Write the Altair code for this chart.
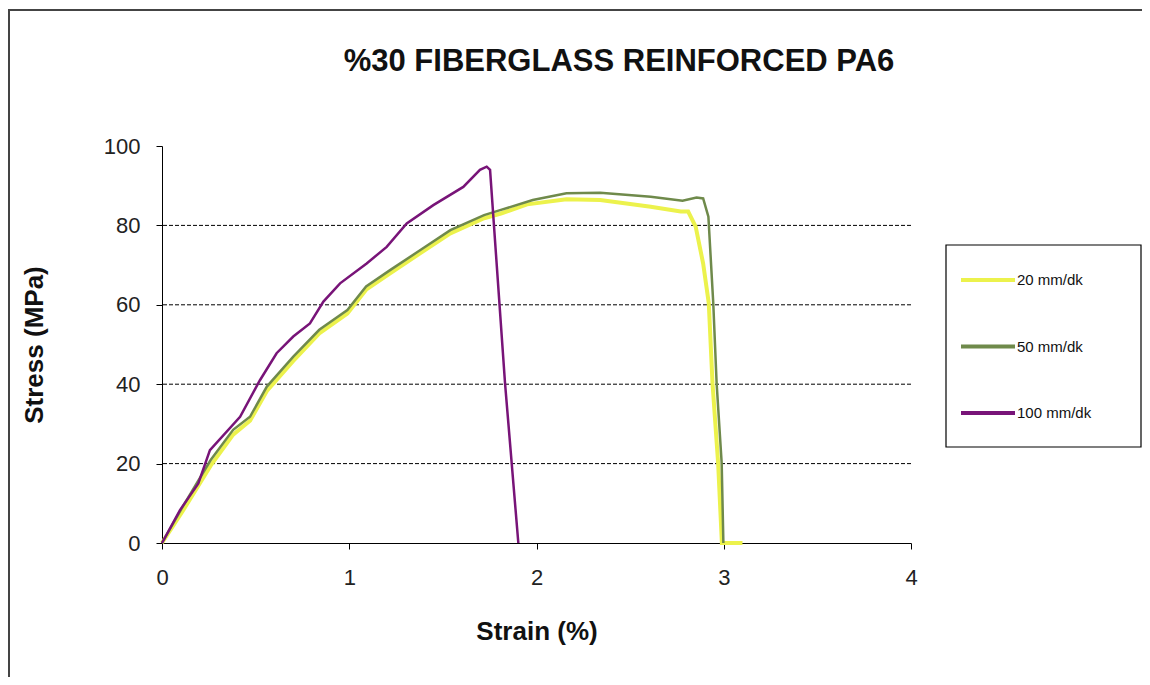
import altair as alt
import pandas as pd

# ---------------- data ----------------
series_names = ["20 mm/dk", "50 mm/dk", "100 mm/dk"]
series_colors = ["#ECF24C", "#6F8A4B", "#781478"]
series_widths = [4, 2.5, 2.5]

strain_20 = [0, 0.11, 0.26, 0.38, 0.47, 0.56, 0.70, 0.84, 0.99, 1.09, 1.22, 1.38, 1.54, 1.72,
             1.81, 1.95, 2.16, 2.34, 2.61, 2.77, 2.81, 2.85, 2.89, 2.92, 2.94, 2.97, 2.99, 3.02, 3.10]
stress_20 = [0, 8.0, 19.5, 27.3, 30.8, 38.3, 45.8, 52.8, 57.8, 63.8, 68.0, 73.0, 78.0, 81.8,
             83.0, 85.3, 86.6, 86.4, 84.7, 83.5, 83.5, 79.7, 70.4, 60.4, 40.2, 20.1, 0, 0, 0]

strain_50 = [0, 0.11, 0.26, 0.38, 0.47, 0.56, 0.70, 0.84, 0.99, 1.09, 1.22, 1.38, 1.54, 1.72,
             1.81, 1.98, 2.16, 2.34, 2.61, 2.78, 2.855, 2.89, 2.918, 2.944, 2.962, 2.989, 2.998]
stress_50 = [0, 9.1, 20.9, 28.5, 31.8, 39.4, 46.9, 53.7, 58.7, 64.6, 68.8, 73.8, 78.8, 82.6,
             83.9, 86.4, 88.1, 88.2, 87.2, 86.2, 87.0, 86.8, 82.2, 60.4, 40.2, 20.1, 0]

strain_100 = [0, 0.096, 0.194, 0.256, 0.417, 0.523, 0.612, 0.701, 0.790, 0.862, 0.951, 1.093,
              1.20, 1.307, 1.449, 1.609, 1.698, 1.734, 1.752, 1.832, 1.903]
stress_100 = [0, 8.3, 15.0, 23.4, 31.8, 41.0, 47.8, 52.0, 55.3, 60.8, 65.4, 70.4,
              74.6, 80.5, 85.1, 89.7, 94.0, 94.8, 94.0, 40.2, 0]

x_ticks = [0, 1, 2, 3, 4]
y_ticks = [0, 20, 40, 60, 80, 100]
grid_values = [20, 40, 60, 80]

title_text = "%30 FIBERGLASS REINFORCED PA6"
x_title = "Strain (%)"
y_title = "Stress (MPa)"

# ---------------- build tables ----------------
all_x = [strain_20, strain_50, strain_100]
all_y = [stress_20, stress_50, stress_100]

FONT = "Liberation Sans"
W, H = 749, 397

xscale = alt.Scale(domain=[0, 4], nice=False)
yscale = alt.Scale(domain=[0, 100], nice=False)
cscale = alt.Scale(domain=series_names, range=series_colors)

x_axis = alt.Axis(values=x_ticks, format="d", grid=False, domainColor="black", tickColor="black",
                  tickSize=6, labelFontSize=22, labelColor="#222", labelPadding=18,
                  labelFont=FONT, title=x_title, titleFont=FONT, titleFontSize=26,
                  titleFontWeight="bold", titleColor="#111", titlePadding=30, labelFlush=False)
y_axis = alt.Axis(values=y_ticks, format="d", grid=False, domainColor="black", tickColor="black",
                  tickSize=6, labelFontSize=22, labelColor="#222", labelPadding=16,
                  labelFont=FONT, title=y_title, titleFont=FONT, titleFontSize=26,
                  titleFontWeight="bold", titleColor="#111", titlePadding=56)

grid_df = pd.DataFrame({"stress": grid_values})
grid = alt.Chart(grid_df).mark_rule(color="black", strokeDash=[4, 2], strokeWidth=1).encode(
    y=alt.Y("stress:Q", scale=yscale, axis=y_axis)
)

layers = [grid]
for name, xs, ys, w in zip(series_names, all_x, all_y, series_widths):
    d = pd.DataFrame({"strain": xs, "stress": ys, "series": name, "i": range(len(xs))})
    layers.append(
        alt.Chart(d).mark_line(strokeWidth=w, clip=False).encode(
            x=alt.X("strain:Q", scale=xscale, axis=x_axis),
            y=alt.Y("stress:Q", scale=yscale, axis=y_axis),
            color=alt.Color("series:N", scale=cscale, legend=None),
            order=alt.Order("i:Q"),
        )
    )

one = pd.DataFrame({"a": [0]})

# title
layers.append(alt.Chart(one).mark_text(text=title_text, font=FONT, fontSize=31, fontWeight="bold",
                                       color="#111", align="center", baseline="middle").encode(
    x=alt.value(457), y=alt.value(-84)))

# legend box and entries
layers.append(alt.Chart(one).mark_rect(fill="white", stroke="black", strokeWidth=1.2).encode(
    x=alt.value(784), x2=alt.value(979), y=alt.value(99), y2=alt.value(301)))
for k, (name, col, w) in enumerate(zip(series_names, series_colors, series_widths)):
    yy = 134 + 66.5 * k
    layers.append(alt.Chart(one).mark_rule(color=col, strokeWidth=4).encode(
        x=alt.value(799), x2=alt.value(853), y=alt.value(yy)))
    layers.append(alt.Chart(one).mark_text(text=name, font=FONT, fontSize=15, color="#111",
                                           align="left", baseline="middle").encode(
        x=alt.value(855), y=alt.value(yy)))

# outer frame (top and left edges)
layers.append(alt.Chart(one).mark_rule(color="#444", strokeWidth=2).encode(
    x=alt.value(-154), x2=alt.value(980), y=alt.value(-136)))
layers.append(alt.Chart(one).mark_rule(color="#444", strokeWidth=2).encode(
    x=alt.value(-153), y=alt.value(-136), y2=alt.value(531)))

chart = alt.layer(*layers).properties(
    width=W, height=H,
    autosize=alt.AutoSizeParams(type="none"),
    padding={"left": 154, "top": 138, "right": 231, "bottom": 134},
    background="white",
).configure_view(stroke=None)

chart.save("out.html", embed_options={"renderer": "svg", "actions": False})
